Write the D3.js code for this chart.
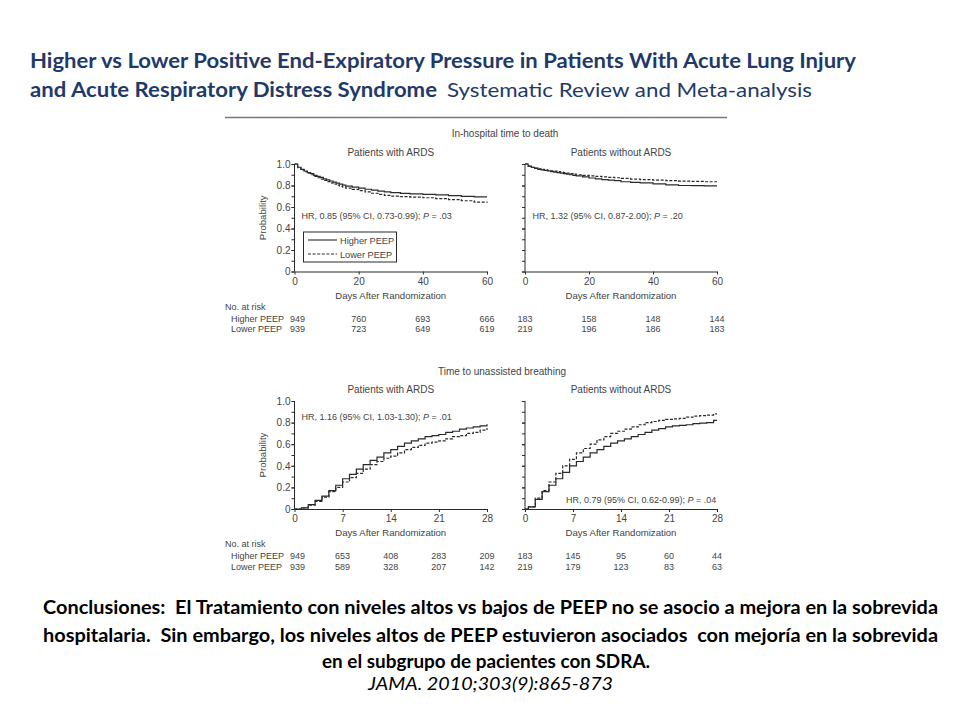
<!DOCTYPE html>
<html><head><meta charset="utf-8">
<script src="https://cdn.jsdelivr.net/npm/d3@7"></script>
<style>body{margin:0;background:#fff} svg{display:block}</style>
</head><body><svg id="c" width="960" height="720"></svg>
<script>
// ---------- DATA ----------
const deathDays = [0,1,2,3,4,5,6,7,8,9,10,11,12,13,14,15,16,18,20,22,24,26,28,30,33,36,40,44,48,52,56,60];
const deathArdsHigher = [1.0,0.97,0.95,0.935,0.92,0.91,0.895,0.885,0.875,0.862,0.852,0.842,0.832,0.822,0.812,0.803,0.795,0.785,0.776,0.765,0.757,0.748,0.740,0.733,0.727,0.722,0.717,0.712,0.705,0.698,0.694,0.694];
const deathArdsLower  = [1.0,0.965,0.945,0.93,0.915,0.90,0.885,0.872,0.86,0.848,0.836,0.825,0.814,0.803,0.793,0.784,0.776,0.764,0.752,0.740,0.728,0.718,0.709,0.702,0.697,0.692,0.686,0.678,0.668,0.658,0.645,0.640];
const deathNoArdsHigher = [1.0,0.98,0.97,0.96,0.95,0.945,0.94,0.935,0.93,0.925,0.92,0.915,0.91,0.905,0.90,0.895,0.89,0.88,0.87,0.862,0.855,0.85,0.845,0.835,0.83,0.825,0.815,0.805,0.80,0.798,0.797,0.797];
const deathNoArdsLower  = [1.0,0.98,0.97,0.963,0.955,0.95,0.945,0.94,0.937,0.933,0.93,0.925,0.92,0.915,0.91,0.905,0.90,0.895,0.89,0.885,0.88,0.876,0.872,0.866,0.86,0.855,0.85,0.845,0.84,0.838,0.835,0.835];

const breathArdsDays = [0,1,2,3,4,5,6,7,8,9,10,11,12,13,14,15,16,17,18,19,20,21,22,23,24,25,26,27,28];
const breathArdsHigher = [0,0.01,0.04,0.08,0.12,0.17,0.22,0.28,0.32,0.37,0.41,0.45,0.48,0.52,0.55,0.58,0.61,0.63,0.65,0.67,0.68,0.69,0.71,0.72,0.74,0.75,0.76,0.77,0.785];
const breathArdsLower  = [0,0.01,0.035,0.07,0.11,0.16,0.20,0.25,0.29,0.33,0.37,0.41,0.44,0.47,0.49,0.52,0.55,0.57,0.59,0.61,0.62,0.63,0.65,0.67,0.68,0.70,0.71,0.73,0.75];

const breathNoArdsDays = [0,0.5,1.5,2.5,3.5,4.5,5.5,6.5,7.5,8.5,9.5,10.5,11.5,12.5,13.5,14.5,15.5,16.5,17.5,18.5,19.5,20.5,21.5,22.5,23.5,24.5,25.5,26.5,27.5,28];
const breathNoArdsHigher = [0,0.02,0.09,0.16,0.22,0.28,0.34,0.40,0.44,0.48,0.52,0.55,0.58,0.61,0.63,0.65,0.67,0.69,0.71,0.73,0.745,0.76,0.77,0.775,0.78,0.79,0.795,0.80,0.82,0.82];
const breathNoArdsLower  = [0,0.02,0.10,0.17,0.25,0.33,0.40,0.46,0.52,0.56,0.60,0.64,0.67,0.70,0.72,0.74,0.76,0.78,0.80,0.81,0.82,0.83,0.835,0.84,0.85,0.86,0.865,0.87,0.88,0.88];

const deathTicks = [0,20,40,60];
const breathTicks = [0,7,14,21,28];
const probTicks = [0,0.2,0.4,0.6,0.8,1.0];
const probMinor = [0,0.1,0.2,0.3,0.4,0.5,0.6,0.7,0.8,0.9,1.0];

const riskDeathArdsHigher = [949,760,693,666];
const riskDeathArdsLower  = [939,723,649,619];
const riskDeathNoArdsHigher = [183,158,148,144];
const riskDeathNoArdsLower  = [219,196,186,183];
const riskBreathArdsHigher = [949,653,408,283,209];
const riskBreathArdsLower  = [939,589,328,207,142];
const riskBreathNoArdsHigher = [183,145,95,60,44];
const riskBreathNoArdsLower  = [219,179,123,83,63];

const seriesNames = ["Higher PEEP","Lower PEEP"];

// ---------- DRAW ----------
const svg = d3.select("#c");
const FONT = "'Liberation Sans', Arial, sans-serif";
const TXT = "#444";
const LN = "#2a2a2a";

function hrText(g, x, y, main, p) {
  const t = g.append("text").attr("x", x).attr("y", y)
    .attr("font-family", FONT).attr("font-size", 9).attr("fill", TXT);
  t.append("tspan").text(main);
  t.append("tspan").attr("font-style","italic").text("P");
  t.append("tspan").text(" = " + p);
}

function panel(o) {
  const g = svg.append("g");
  const x = d3.scaleLinear().domain([0, o.max]).range([o.x0, o.x1]);
  const y = d3.scaleLinear().domain([0, 1]).range([o.yB, o.yT]);
  g.append("g").attr("transform", `translate(${o.x0},0)`)
    .call(d3.axisLeft(y).tickValues(probMinor).tickSize(3).tickFormat(""))
    .call(s => { s.select(".domain").remove(); s.selectAll("line").attr("stroke", LN); });
  const ya = g.append("g").attr("transform", `translate(${o.x0},0)`)
    .call(d3.axisLeft(y).tickValues(probTicks).tickSize(3).tickPadding(1)
      .tickFormat(o.yLabels ? (d => d === 0 ? "0" : d3.format(".1f")(d)) : ""));
  ya.select(".domain").attr("stroke", LN).attr("d", `M0,${o.yB}V${o.yT}`);
  ya.selectAll("line").attr("stroke", LN);
  ya.selectAll("text").attr("font-family", FONT).attr("font-size", 10).attr("fill", TXT);
  const xa = g.append("g").attr("transform", `translate(0,${o.yB})`)
    .call(d3.axisBottom(x).tickValues(o.ticks).tickSize(3).tickPadding(3).tickSizeOuter(0));
  xa.select(".domain").attr("stroke", LN);
  xa.selectAll("line").attr("stroke", LN);
  xa.selectAll("text").attr("font-family", FONT).attr("font-size", 10).attr("fill", TXT);
  g.append("text").attr("x", (o.x0 + o.x1) / 2).attr("y", o.yB + 27)
    .attr("text-anchor", "middle").attr("font-family", FONT).attr("font-size", 9.6).attr("fill", TXT)
    .text("Days After Randomization");
  if (o.yLabels) {
    g.append("text").attr("transform", `translate(${o.x0 - 29},${(o.yT + o.yB) / 2}) rotate(-90)`)
      .attr("text-anchor", "middle").attr("font-family", FONT).attr("font-size", 9.6).attr("fill", TXT)
      .text("Probability");
  }
  g.append("text").attr("x", (o.x0 + o.x1) / 2).attr("y", o.yT - 8)
    .attr("text-anchor", "middle").attr("font-family", FONT).attr("font-size", 10).attr("fill", TXT)
    .text(o.title);
  const line = d3.line().x(d => x(d[0])).y(d => y(d[1])).curve(d3.curveStepAfter);
  g.append("path").datum(d3.zip(o.days, o.higher)).attr("d", line)
    .attr("fill", "none").attr("stroke", LN).attr("stroke-width", 1.2);
  g.append("path").datum(d3.zip(o.days, o.lower)).attr("d", line)
    .attr("fill", "none").attr("stroke", LN).attr("stroke-width", 1.2).attr("stroke-dasharray", "3,1.6");
  hrText(g, o.hrX, o.hrY, o.hr, o.p);
  const rt = o.yB + 38;
  if (o.yLabels) {
    g.append("text").attr("x", 225).attr("y", rt).attr("font-family", FONT).attr("font-size", 9).attr("fill", TXT).text("No. at risk");
    seriesNames.forEach((n, i) => g.append("text").attr("x", 231).attr("y", rt + 12 + i * 10.5)
      .attr("font-family", FONT).attr("font-size", 9).attr("fill", TXT).text(n));
  }
  [o.riskH, o.riskL].forEach((arr, i) => {
    g.selectAll(null).data(arr).enter().append("text")
      .attr("x", (d, j) => x(o.ticks[j]) + (j === 0 && o.yLabels ? 3 : 0)).attr("y", rt + 12 + i * 10.5)
      .attr("text-anchor", "middle").attr("font-family", FONT).attr("font-size", 9).attr("fill", TXT)
      .text(d => d);
  });
  if (o.legend) {
    g.append("rect").attr("x", 303.5).attr("y", 232).attr("width", 93).attr("height", 30)
      .attr("fill", "#fff").attr("stroke", LN).attr("stroke-width", 1);
    [0, 1].forEach(i => {
      g.append("line").attr("x1", 308).attr("x2", 337).attr("y1", 240 + i * 14).attr("y2", 240 + i * 14)
        .attr("stroke", LN).attr("stroke-width", 1.1).attr("stroke-dasharray", i ? "3,1.6" : null);
      g.append("text").attr("x", 340).attr("y", 243.5 + i * 14).attr("font-family", FONT).attr("font-size", 9.2)
        .attr("fill", TXT).text(seriesNames[i]);
    });
  }
}

const TITLEC = "#1F3A6A";
const TF = "Lato, 'Open Sans', sans-serif";
svg.append("text").attr("x", 30).attr("y", 68).attr("font-family", TF).attr("font-weight", "bold")
  .attr("font-size", 20).attr("fill", TITLEC).attr("textLength", 826).attr("lengthAdjust", "spacingAndGlyphs")
  .text("Higher vs Lower Positive End-Expiratory Pressure in Patients With Acute Lung Injury");
svg.append("text").attr("x", 30).attr("y", 97).attr("font-family", TF).attr("font-weight", "bold")
  .attr("font-size", 20).attr("fill", TITLEC).attr("textLength", 407).attr("lengthAdjust", "spacingAndGlyphs")
  .text("and Acute Respiratory Distress Syndrome");
svg.append("text").attr("x", 447).attr("y", 97).attr("font-family", TF)
  .attr("font-size", 20).attr("fill", TITLEC).attr("textLength", 365).attr("lengthAdjust", "spacingAndGlyphs")
  .text("Systematic Review and Meta-analysis");

svg.append("line").attr("x1", 225).attr("x2", 727).attr("y1", 117.5).attr("y2", 117.5)
  .attr("stroke", "#777").attr("stroke-width", 1.5);

svg.append("text").attr("x", 505).attr("y", 137).attr("text-anchor", "middle").attr("font-family", FONT)
  .attr("font-size", 10).attr("fill", TXT).text("In-hospital time to death");
svg.append("text").attr("x", 502).attr("y", 374.5).attr("text-anchor", "middle").attr("font-family", FONT)
  .attr("font-size", 10).attr("fill", TXT).text("Time to unassisted breathing");

panel({x0:294.5, x1:487, yT:164, yB:271.5, max:60, ticks:deathTicks, yLabels:true, title:"Patients with ARDS",
  days:deathDays, higher:deathArdsHigher, lower:deathArdsLower, hr:"HR, 0.85 (95% CI, 0.73-0.99); ", p:".03",
  hrX:301.5, hrY:218.5, riskH:riskDeathArdsHigher, riskL:riskDeathArdsLower, legend:true});
panel({x0:525, x1:717, yT:164, yB:271.5, max:60, ticks:deathTicks, yLabels:false, title:"Patients without ARDS",
  days:deathDays, higher:deathNoArdsHigher, lower:deathNoArdsLower, hr:"HR, 1.32 (95% CI, 0.87-2.00); ", p:".20",
  hrX:532.5, hrY:218.5, riskH:riskDeathNoArdsHigher, riskL:riskDeathNoArdsLower, legend:false});
panel({x0:294.5, x1:487, yT:401, yB:509, max:28, ticks:breathTicks, yLabels:true, title:"Patients with ARDS",
  days:breathArdsDays, higher:breathArdsHigher, lower:breathArdsLower, hr:"HR, 1.16 (95% CI, 1.03-1.30); ", p:".01",
  hrX:301.5, hrY:420, riskH:riskBreathArdsHigher, riskL:riskBreathArdsLower, legend:false});
panel({x0:525, x1:717, yT:401, yB:509, max:28, ticks:breathTicks, yLabels:false, title:"Patients without ARDS",
  days:breathNoArdsDays, higher:breathNoArdsHigher, lower:breathNoArdsLower, hr:"HR, 0.79 (95% CI, 0.62-0.99); ", p:".04",
  hrX:566, hrY:502.5, riskH:riskBreathNoArdsHigher, riskL:riskBreathNoArdsLower, legend:false});

const CF = "Lato, 'Open Sans', sans-serif";
svg.append("text").attr("x", 43).attr("y", 614).attr("font-family", CF).attr("font-weight", "bold")
  .attr("font-size", 18).attr("fill", "#000").attr("textLength", 895).attr("lengthAdjust", "spacingAndGlyphs")
  .attr("xml:space", "preserve")
  .text("Conclusiones:  El Tratamiento con niveles altos vs bajos de PEEP no se asocio a mejora en la sobrevida");
svg.append("text").attr("x", 43).attr("y", 642).attr("font-family", CF).attr("font-weight", "bold")
  .attr("font-size", 18).attr("fill", "#000").attr("textLength", 895).attr("lengthAdjust", "spacingAndGlyphs")
  .attr("xml:space", "preserve")
  .text("hospitalaria.  Sin embargo, los niveles altos de PEEP estuvieron asociados  con mejoría en la sobrevida");
svg.append("text").attr("x", 322).attr("y", 668).attr("font-family", CF).attr("font-weight", "bold")
  .attr("font-size", 18).attr("fill", "#000").attr("textLength", 328).attr("lengthAdjust", "spacingAndGlyphs")
  .text("en el subgrupo de pacientes con SDRA.");
svg.append("text").attr("x", 368).attr("y", 690).attr("font-family", CF).attr("font-style", "italic")
  .attr("font-size", 18).attr("fill", "#000").attr("textLength", 245).attr("lengthAdjust", "spacingAndGlyphs")
  .text("JAMA. 2010;303(9):865-873");
</script></body></html>
